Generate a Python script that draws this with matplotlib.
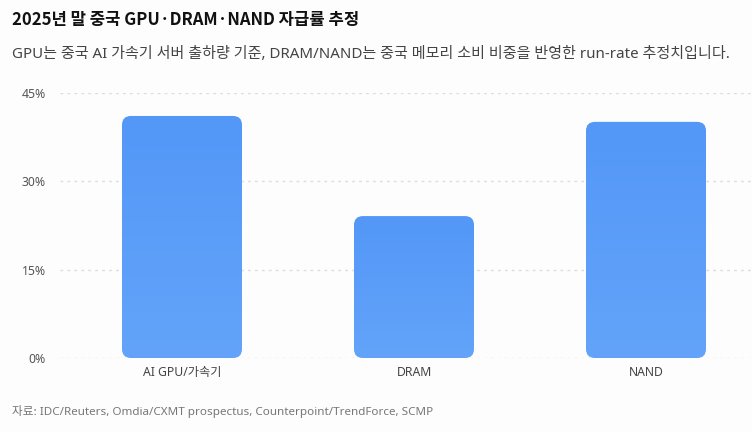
import numpy as np
import matplotlib
matplotlib.use("Agg")
import matplotlib.pyplot as plt
from matplotlib.patches import FancyBboxPatch
from matplotlib.colors import LinearSegmentedColormap

plt.rcParams['font.family'] = ['Noto Sans', 'Noto Sans CJK KR', 'DejaVu Sans']

# data
categories = ["AI GPU/가속기", "DRAM", "NAND"]
self_sufficiency = [41.1, 24.1, 40.1]
y_ticks = [0, 15, 30, 45]

title = "2025년 말 중국 GPU·DRAM·NAND 자급률 추정"
subtitle = "GPU는 중국 AI 가속기 서버 출하량 기준, DRAM/NAND는 중국 메모리 소비 비중을 반영한 run-rate 추정치입니다."
source = "자료: IDC/Reuters, Omdia/CXMT prospectus, Counterpoint/TrendForce, SCMP"

bg = "#fdfdfd"
fig = plt.figure(figsize=(7.52, 4.32), dpi=100, facecolor=bg)
ax = fig.add_axes([60 / 752, 74 / 432, 692 / 752, 265 / 432], facecolor=bg)

x = np.arange(len(categories))
width = 120 / 232
bars = ax.bar(x, self_sufficiency, width=width, color="none")

# rounded bars with a light vertical gradient
px_x = 1 / 232
px_y = 45 / 265
cmap = LinearSegmentedColormap.from_list("blu", ["#63a4fa", "#5397f7"])
grad = np.linspace(0, 1, 256).reshape(-1, 1)
for b in bars:
    bx, by = b.get_x(), b.get_y()
    bw, bh = b.get_width(), b.get_height()
    patch = FancyBboxPatch((bx, by), bw, bh,
                           boxstyle=f"round,pad=0,rounding_size={9 * px_x}",
                           mutation_aspect=px_y / px_x,
                           facecolor="none", edgecolor="none", zorder=3)
    ax.add_patch(patch)
    im = ax.imshow(grad, extent=(bx, bx + bw, by, by + bh), origin="lower",
                   cmap=cmap, aspect="auto", zorder=3)
    im.set_clip_path(patch)
    b.remove()

ax.set_xlim(-122 / 232, 2 + 106 / 232)
ax.set_ylim(0, 45)

ax.set_yticks(y_ticks)
ax.set_yticklabels([f"{t}%" for t in y_ticks])
ax.set_xticks(x)
ax.set_xticklabels(categories)
ax.tick_params(axis="y", length=0, pad=10, labelsize=8.8, labelcolor="#555555")
ax.tick_params(axis="x", length=0, pad=6, labelsize=8.8, labelcolor="#444444")
ax.grid(axis="y", color="#dddddd", linestyle=(0, (2, 3)), linewidth=1)
ax.set_axisbelow(True)
for s in ax.spines.values():
    s.set_visible(False)

fig.text(12 / 752, 1 - 20 / 432, title, fontsize=12.0, fontweight="bold",
         color="#111111", va="center", ha="left",
         family=['Noto Sans CJK KR', 'DejaVu Sans'])
fig.text(12 / 752, 1 - 54 / 432, subtitle, fontsize=10.85,
         color="#444444", va="center", ha="left")
fig.text(12 / 752, 1 - 411 / 432, source, fontsize=8.4,
         color="#777777", va="center", ha="left")

fig.savefig("out.png", dpi=100, facecolor=bg)
